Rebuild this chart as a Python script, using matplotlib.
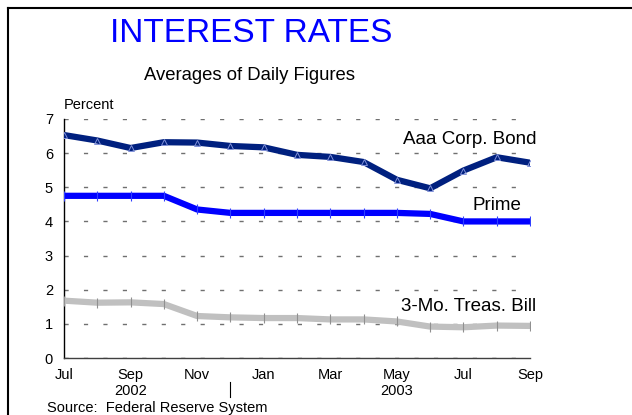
import numpy as np
import matplotlib
matplotlib.use('Agg')
import matplotlib.pyplot as plt
from matplotlib.lines import Line2D

plt.rcParams['font.family'] = ['Liberation Sans', 'DejaVu Sans']

## Data ==============================================
months = ['Jul', 'Aug', 'Sep', 'Oct', 'Nov', 'Dec', 'Jan', 'Feb',
          'Mar', 'Apr', 'May', 'Jun', 'Jul', 'Aug', 'Sep']
aaa = [6.53, 6.37, 6.15, 6.32, 6.31, 6.21, 6.17, 5.95,
       5.89, 5.74, 5.22, 4.97, 5.49, 5.88, 5.72]
prime = [4.75, 4.75, 4.75, 4.75, 4.35, 4.25, 4.25, 4.25,
         4.25, 4.25, 4.25, 4.22, 4.00, 4.00, 4.00]
tbill = [1.68, 1.62, 1.63, 1.58, 1.23, 1.19, 1.17, 1.17,
         1.13, 1.13, 1.07, 0.92, 0.90, 0.95, 0.94]
tick_labels = ['Jul', 'Sep', 'Nov', 'Jan', 'Mar', 'May', 'Jul', 'Sep']
years = {'2002': 2, '2003': 10}

x = np.arange(len(months))

## Figure ==============================================
fig = plt.figure(figsize=(6.32, 4.15), dpi=100)
ax = fig.add_axes([64/632, 1-358/415, (530-64)/632, (358-119)/415])

# outer frame (left + top, runs off the image)
fig.add_artist(Line2D([8/632, 8/632], [-0.1, 1-8/415], color='black', lw=1.5))
fig.add_artist(Line2D([8/632, 1.1], [1-8/415, 1-8/415], color='black', lw=1.5))

# grid
for yv in range(0, 8):
    ax.axhline(yv, color='#505050' if yv == 0 else '#707070', lw=1.0,
               dashes=(3, 11), zorder=1)

ax.plot(x, tbill, color='#c0c0c0', lw=4.5, solid_capstyle='round',
        marker='|', ms=7, mec='#909090', mew=0.8, zorder=3)
ax.plot(x, prime, color='#0000ff', lw=4.5, solid_capstyle='round',
        marker='|', ms=7, mec='#3040ff', mew=0.8, zorder=3)
ax.plot(x, aaa, color='#00207f', lw=4.5, solid_capstyle='round',
        marker='^', ms=4, mfc='none', mec='#8090d8', mew=0.7, zorder=4)

ax.set_xlim(0, 14)
ax.set_ylim(0, 7)
ax.set_yticks(range(0, 8))
ax.set_xticks(range(0, 15, 2))
ax.set_xticklabels(tick_labels)
ax.tick_params(length=0, labelsize=10.5, pad=7)
ax.tick_params(axis='y', pad=8)
for s in ['top', 'right']:
    ax.spines[s].set_visible(False)
ax.spines['left'].set_linewidth(1.0)
ax.spines['bottom'].set_linewidth(1.0)
ax.spines['bottom'].set_color('#404040')

for yr, pos in years.items():
    ax.text(pos, -0.96, yr, ha='center', va='center', fontsize=10.5)
ax.plot([5, 5], [-0.7, -1.14], color='black', lw=0.8, clip_on=False)

ax.text(0, 7.4, 'Percent', ha='left', va='center', fontsize=10.5)

ax.text(12.2, 6.39, 'Aaa Corp. Bond', ha='center', va='center', fontsize=13.5)
ax.text(13.0, 4.48, 'Prime', ha='center', va='center', fontsize=13.5)
ax.text(12.15, 1.52, '3-Mo. Treas. Bill', ha='center', va='center', fontsize=13.5)

fig.text(251/632, 1-34/415, 'INTEREST RATES', color='#0000ff',
         ha='center', va='center', fontsize=24)
fig.text(249/632, 1-76/415, 'Averages of Daily Figures',
         ha='center', va='center', fontsize=13.3)
fig.text(47/632, 1-408/415, 'Source:  Federal Reserve System',
         ha='left', va='center', fontsize=10.5)

fig.savefig('out.png', dpi=100)
